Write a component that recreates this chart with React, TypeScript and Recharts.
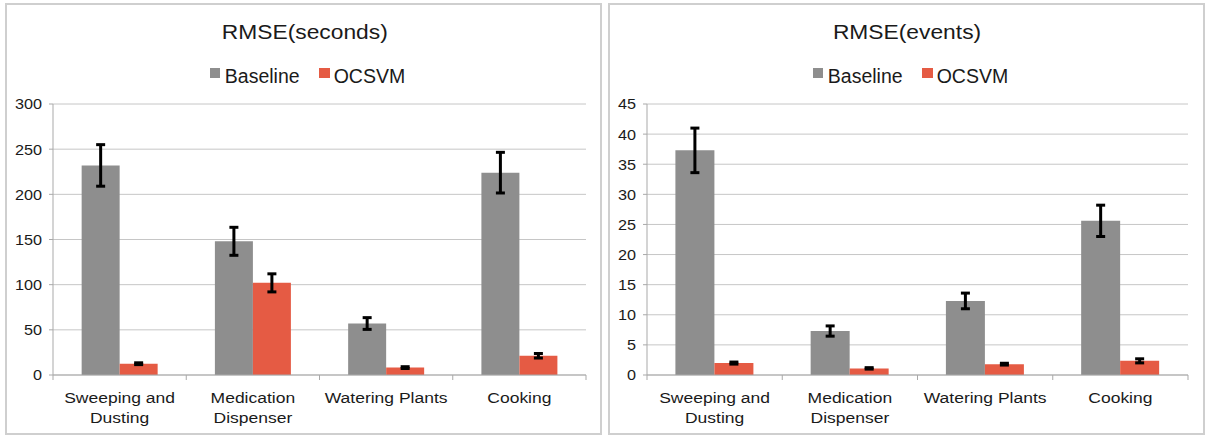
import React from 'react';
import { BarChart, Bar, XAxis, YAxis, CartesianGrid, ErrorBar } from 'recharts';

const categories = ['Sweeping and\nDusting', 'Medication\nDispenser', 'Watering Plants', 'Cooking'];
const seriesNames = ['Baseline', 'OCSVM'];

const secondsBaseline = [232, 148, 57, 224];
const secondsBaselineErr = [23, 15.5, 6.5, 22.5];
const secondsOcsvm = [12.5, 102, 8.2, 21.3];
const secondsOcsvmErr = [1, 10, 1, 2.5];
const secondsTicks = [0, 50, 100, 150, 200, 250, 300];

const eventsBaseline = [37.3, 7.3, 12.3, 25.6];
const eventsBaselineErr = [3.7, 0.85, 1.3, 2.6];
const eventsOcsvm = [1.98, 1.1, 1.8, 2.35];
const eventsOcsvmErr = [0.17, 0.12, 0.15, 0.34];
const eventsTicks = [0, 5, 10, 15, 20, 25, 30, 35, 40, 45];

const FONT = '"Liberation Sans", Arial, Helvetica, sans-serif';
const GRAY = '#8e8e8e';
const RED = '#e55b44';
const AXIS = '#a9a9a9';
const GRID = '#c6c6c6';
const TEXT = '#1a1a1a';

function buildRows(base: number[], baseErr: number[], oc: number[], ocErr: number[]) {
  return categories.map((c, i) => ({
    name: c,
    baseline: base[i],
    baselineErr: baseErr[i],
    ocsvm: oc[i],
    ocsvmErr: ocErr[i],
  }));
}

const XTick = (props: any) => {
  const { x, y, payload, index, bw, count } = props;
  const lines = String(payload.value).split('\n');
  return (
    <g>
      <line x1={x - bw / 2} x2={x - bw / 2} y1={y} y2={y + 5} stroke={AXIS} strokeWidth={1} />
      {index === count - 1 && (
        <line x1={x + bw / 2} x2={x + bw / 2} y1={y} y2={y + 5} stroke={AXIS} strokeWidth={1} />
      )}
      <g transform={`translate(${x},${y}) scale(1.13,1)`}>
        {lines.map((l: string, i: number) => (
          <text key={i} x={0} y={28 + i * 20} textAnchor="middle" fontSize={15.5} fill={TEXT} fontFamily={FONT}>
            {l}
          </text>
        ))}
      </g>
    </g>
  );
};

const YTick = (props: any) => {
  const { x, y, payload } = props;
  return (
    <g transform={`translate(${x},${y}) scale(1.08,1)`}>
      <text x={0} y={0} dy="0.36em" textAnchor="end" fontSize={15} fill={TEXT} fontFamily={FONT}>
        {payload.value}
      </text>
    </g>
  );
};

type PanelProps = {
  left: number;
  title: string;
  rows: any[];
  ticks: number[];
  yWidth: number;
  rightMargin: number;
  gap: string;
  legendShift: number;
};

const Panel = ({ left, title, rows, ticks, yWidth, rightMargin, gap, legendShift }: PanelProps) => {
  const W = 603;
  const H = 436;
  const plotW = W - yWidth - rightMargin;
  const bw = plotW / categories.length;
  return (
    <div style={{ position: 'absolute', left, top: 0, width: W, height: H }}>
      <div
        style={{
          position: 'absolute',
          left: 5,
          top: 3,
          width: 597,
          height: 432,
          border: '2px solid #cfcfcf',
          boxSizing: 'border-box',
        }}
      />
      <div
        style={{
          position: 'absolute',
          left: 6,
          top: 20,
          width: 597,
          textAlign: 'center',
          fontFamily: FONT,
          fontSize: 20,
          lineHeight: '24px',
          color: TEXT,
        }}
      >
        <span style={{ display: 'inline-block', transform: 'scaleX(1.14)' }}>{title}</span>
      </div>
      <div
        style={{
          position: 'absolute',
          left: 5 + legendShift,
          top: 66,
          width: 597,
          display: 'flex',
          justifyContent: 'center',
          fontFamily: FONT,
          fontSize: 19.5,
          lineHeight: '20px',
          color: TEXT,
        }}
      >
        {seriesNames.map((s, i) => (
          <div key={s} style={{ display: 'flex', alignItems: 'flex-start', marginLeft: i === 0 ? 0 : 19 }}>
            <div
              style={{
                width: i === 0 ? 10 : 11,
                height: 10,
                marginTop: 2,
                marginRight: i === 0 ? 5 : 4,
                background: i === 0 ? GRAY : RED,
              }}
            />
            <span>{s}</span>
          </div>
        ))}
      </div>
      <div style={{ position: 'absolute', left: 0, top: 0 }}>
        <BarChart
          width={W}
          height={H}
          data={rows}
          margin={{ top: 104, right: rightMargin, bottom: 0, left: 0 }}
          barCategoryGap={gap}
          barGap={0}
        >
          <CartesianGrid horizontal={true} vertical={false} stroke={GRID} strokeWidth={1} />
          <XAxis
            dataKey="name"
            height={61}
            interval={0}
            tickSize={0}
            tickMargin={0}
            tickLine={false}
            axisLine={{ stroke: AXIS, strokeWidth: 1 }}
            tick={(p: any) => <XTick {...p} bw={bw} count={categories.length} />}
          />
          <YAxis
            width={yWidth}
            domain={[0, ticks[ticks.length - 1]]}
            ticks={ticks}
            interval={0}
            tickSize={4}
            tickMargin={7}
            tickLine={{ stroke: AXIS, strokeWidth: 1 }}
            axisLine={{ stroke: AXIS, strokeWidth: 1 }}
            tick={(p: any) => <YTick {...p} />}
          />
          <Bar dataKey="baseline" fill={GRAY} isAnimationActive={false}>
            <ErrorBar dataKey="baselineErr" width={4.5} stroke="#000" strokeWidth={3} />
          </Bar>
          <Bar dataKey="ocsvm" fill={RED} isAnimationActive={false}>
            <ErrorBar dataKey="ocsvmErr" width={4.5} stroke="#000" strokeWidth={3} />
          </Bar>
        </BarChart>
      </div>
    </div>
  );
};

export default function App() {
  const secondsRows = buildRows(secondsBaseline, secondsBaselineErr, secondsOcsvm, secondsOcsvmErr);
  const eventsRows = buildRows(eventsBaseline, eventsBaselineErr, eventsOcsvm, eventsOcsvmErr);
  return (
    <div style={{ position: 'absolute', left: 0, top: 0, width: 1206, height: 436, background: '#fff' }}>
      <Panel
        left={0}
        title="RMSE(seconds)"
        rows={secondsRows}
        ticks={secondsTicks}
        yWidth={53}
        rightMargin={17}
        gap="21.5%"
        legendShift={4}
      />
      <Panel
        left={603}
        title="RMSE(events)"
        rows={eventsRows}
        ticks={eventsTicks}
        yWidth={44}
        rightMargin={18}
        gap="21%"
        legendShift={4}
      />
    </div>
  );
}
